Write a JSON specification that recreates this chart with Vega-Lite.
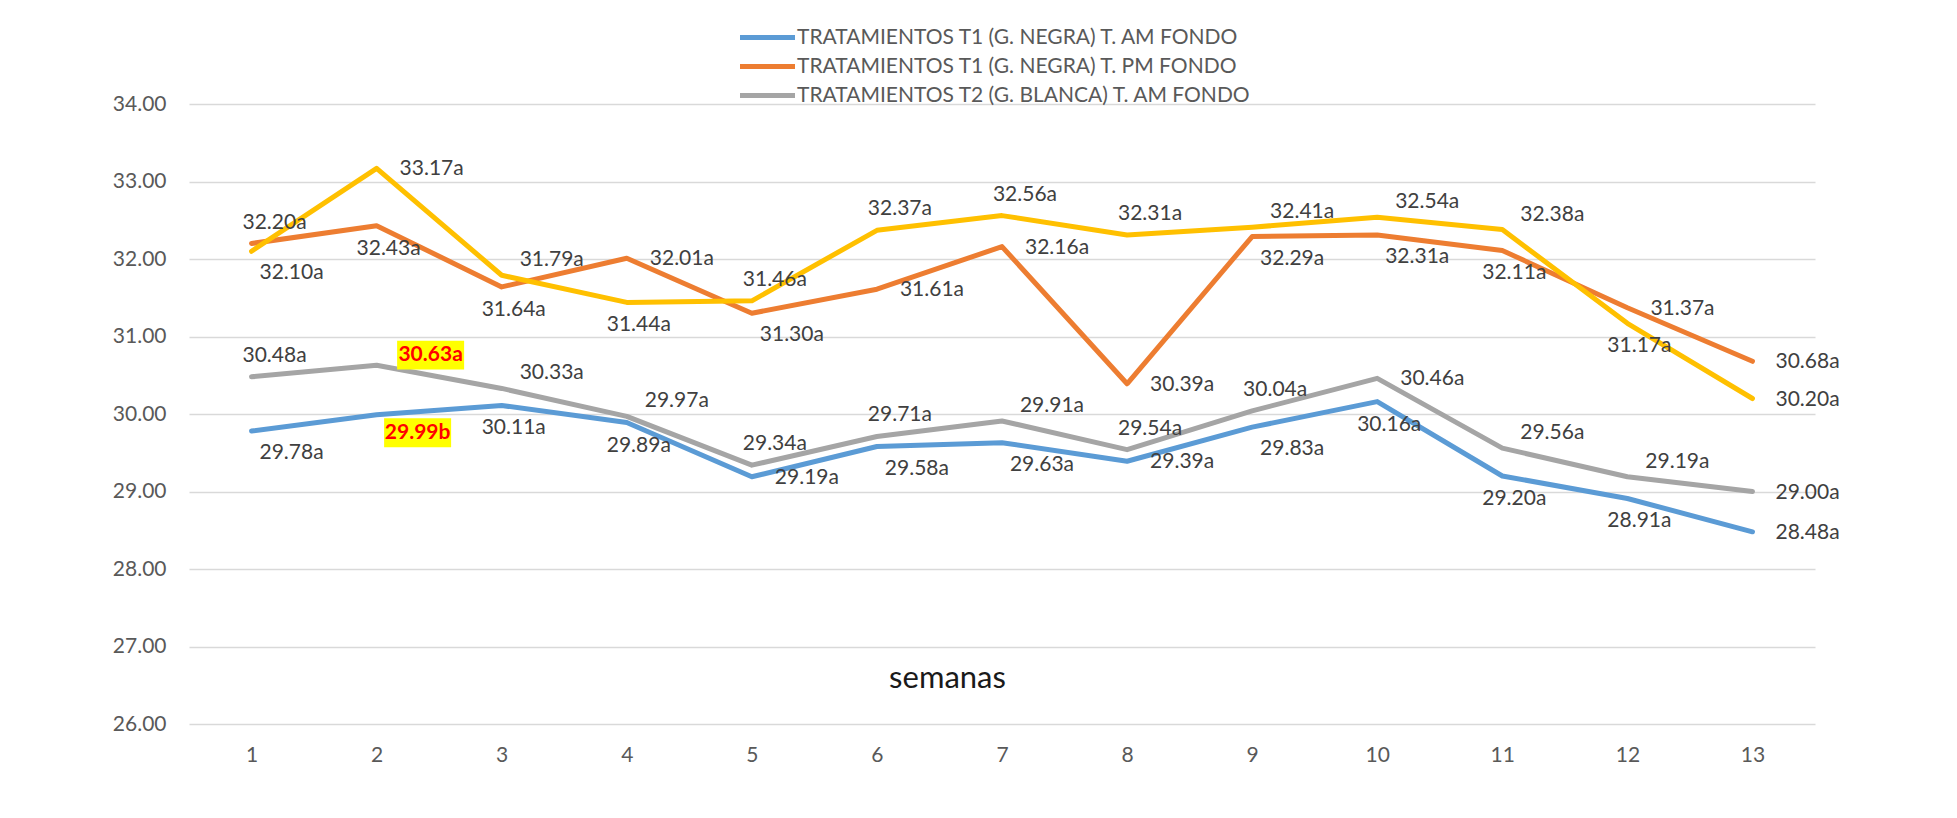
{
  "$schema": "https://vega.github.io/schema/vega-lite/v6.json",
  "width": 1626,
  "height": 620,
  "autosize": {"type": "none"},
  "padding": {"left": 189, "top": 104, "right": 142, "bottom": 94},
  "background": "white",
  "config": {
    "view": {"stroke": null},
    "font": "Lato",
    "text": {"font": "Lato", "fontSize": 21, "color": "#404040", "baseline": "middle"}
  },
  "data": {
    "values": [
      {"semana": 1, "codigo": "T1AM", "serie": "TRATAMIENTOS T1 (G. NEGRA) T. AM FONDO", "valor": 29.78, "etiqueta": "29.78a"},
      {"semana": 2, "codigo": "T1AM", "serie": "TRATAMIENTOS T1 (G. NEGRA) T. AM FONDO", "valor": 29.99, "etiqueta": "29.99b"},
      {"semana": 3, "codigo": "T1AM", "serie": "TRATAMIENTOS T1 (G. NEGRA) T. AM FONDO", "valor": 30.11, "etiqueta": "30.11a"},
      {"semana": 4, "codigo": "T1AM", "serie": "TRATAMIENTOS T1 (G. NEGRA) T. AM FONDO", "valor": 29.89, "etiqueta": "29.89a"},
      {"semana": 5, "codigo": "T1AM", "serie": "TRATAMIENTOS T1 (G. NEGRA) T. AM FONDO", "valor": 29.19, "etiqueta": "29.19a"},
      {"semana": 6, "codigo": "T1AM", "serie": "TRATAMIENTOS T1 (G. NEGRA) T. AM FONDO", "valor": 29.58, "etiqueta": "29.58a"},
      {"semana": 7, "codigo": "T1AM", "serie": "TRATAMIENTOS T1 (G. NEGRA) T. AM FONDO", "valor": 29.63, "etiqueta": "29.63a"},
      {"semana": 8, "codigo": "T1AM", "serie": "TRATAMIENTOS T1 (G. NEGRA) T. AM FONDO", "valor": 29.39, "etiqueta": "29.39a"},
      {"semana": 9, "codigo": "T1AM", "serie": "TRATAMIENTOS T1 (G. NEGRA) T. AM FONDO", "valor": 29.83, "etiqueta": "29.83a"},
      {"semana": 10, "codigo": "T1AM", "serie": "TRATAMIENTOS T1 (G. NEGRA) T. AM FONDO", "valor": 30.16, "etiqueta": "30.16a"},
      {"semana": 11, "codigo": "T1AM", "serie": "TRATAMIENTOS T1 (G. NEGRA) T. AM FONDO", "valor": 29.20, "etiqueta": "29.20a"},
      {"semana": 12, "codigo": "T1AM", "serie": "TRATAMIENTOS T1 (G. NEGRA) T. AM FONDO", "valor": 28.91, "etiqueta": "28.91a"},
      {"semana": 13, "codigo": "T1AM", "serie": "TRATAMIENTOS T1 (G. NEGRA) T. AM FONDO", "valor": 28.48, "etiqueta": "28.48a"},
      {"semana": 1, "codigo": "T1PM", "serie": "TRATAMIENTOS T1 (G. NEGRA) T. PM FONDO", "valor": 32.20, "etiqueta": "32.20a"},
      {"semana": 2, "codigo": "T1PM", "serie": "TRATAMIENTOS T1 (G. NEGRA) T. PM FONDO", "valor": 32.43, "etiqueta": "32.43a"},
      {"semana": 3, "codigo": "T1PM", "serie": "TRATAMIENTOS T1 (G. NEGRA) T. PM FONDO", "valor": 31.64, "etiqueta": "31.64a"},
      {"semana": 4, "codigo": "T1PM", "serie": "TRATAMIENTOS T1 (G. NEGRA) T. PM FONDO", "valor": 32.01, "etiqueta": "32.01a"},
      {"semana": 5, "codigo": "T1PM", "serie": "TRATAMIENTOS T1 (G. NEGRA) T. PM FONDO", "valor": 31.30, "etiqueta": "31.30a"},
      {"semana": 6, "codigo": "T1PM", "serie": "TRATAMIENTOS T1 (G. NEGRA) T. PM FONDO", "valor": 31.61, "etiqueta": "31.61a"},
      {"semana": 7, "codigo": "T1PM", "serie": "TRATAMIENTOS T1 (G. NEGRA) T. PM FONDO", "valor": 32.16, "etiqueta": "32.16a"},
      {"semana": 8, "codigo": "T1PM", "serie": "TRATAMIENTOS T1 (G. NEGRA) T. PM FONDO", "valor": 30.39, "etiqueta": "30.39a"},
      {"semana": 9, "codigo": "T1PM", "serie": "TRATAMIENTOS T1 (G. NEGRA) T. PM FONDO", "valor": 32.29, "etiqueta": "32.29a"},
      {"semana": 10, "codigo": "T1PM", "serie": "TRATAMIENTOS T1 (G. NEGRA) T. PM FONDO", "valor": 32.31, "etiqueta": "32.31a"},
      {"semana": 11, "codigo": "T1PM", "serie": "TRATAMIENTOS T1 (G. NEGRA) T. PM FONDO", "valor": 32.11, "etiqueta": "32.11a"},
      {"semana": 12, "codigo": "T1PM", "serie": "TRATAMIENTOS T1 (G. NEGRA) T. PM FONDO", "valor": 31.37, "etiqueta": "31.37a"},
      {"semana": 13, "codigo": "T1PM", "serie": "TRATAMIENTOS T1 (G. NEGRA) T. PM FONDO", "valor": 30.68, "etiqueta": "30.68a"},
      {"semana": 1, "codigo": "T2AM", "serie": "TRATAMIENTOS T2 (G. BLANCA) T. AM FONDO", "valor": 30.48, "etiqueta": "30.48a"},
      {"semana": 2, "codigo": "T2AM", "serie": "TRATAMIENTOS T2 (G. BLANCA) T. AM FONDO", "valor": 30.63, "etiqueta": "30.63a"},
      {"semana": 3, "codigo": "T2AM", "serie": "TRATAMIENTOS T2 (G. BLANCA) T. AM FONDO", "valor": 30.33, "etiqueta": "30.33a"},
      {"semana": 4, "codigo": "T2AM", "serie": "TRATAMIENTOS T2 (G. BLANCA) T. AM FONDO", "valor": 29.97, "etiqueta": "29.97a"},
      {"semana": 5, "codigo": "T2AM", "serie": "TRATAMIENTOS T2 (G. BLANCA) T. AM FONDO", "valor": 29.34, "etiqueta": "29.34a"},
      {"semana": 6, "codigo": "T2AM", "serie": "TRATAMIENTOS T2 (G. BLANCA) T. AM FONDO", "valor": 29.71, "etiqueta": "29.71a"},
      {"semana": 7, "codigo": "T2AM", "serie": "TRATAMIENTOS T2 (G. BLANCA) T. AM FONDO", "valor": 29.91, "etiqueta": "29.91a"},
      {"semana": 8, "codigo": "T2AM", "serie": "TRATAMIENTOS T2 (G. BLANCA) T. AM FONDO", "valor": 29.54, "etiqueta": "29.54a"},
      {"semana": 9, "codigo": "T2AM", "serie": "TRATAMIENTOS T2 (G. BLANCA) T. AM FONDO", "valor": 30.04, "etiqueta": "30.04a"},
      {"semana": 10, "codigo": "T2AM", "serie": "TRATAMIENTOS T2 (G. BLANCA) T. AM FONDO", "valor": 30.46, "etiqueta": "30.46a"},
      {"semana": 11, "codigo": "T2AM", "serie": "TRATAMIENTOS T2 (G. BLANCA) T. AM FONDO", "valor": 29.56, "etiqueta": "29.56a"},
      {"semana": 12, "codigo": "T2AM", "serie": "TRATAMIENTOS T2 (G. BLANCA) T. AM FONDO", "valor": 29.19, "etiqueta": "29.19a"},
      {"semana": 13, "codigo": "T2AM", "serie": "TRATAMIENTOS T2 (G. BLANCA) T. AM FONDO", "valor": 29.00, "etiqueta": "29.00a"},
      {"semana": 1, "codigo": "T2PM", "serie": "TRATAMIENTOS T2 (G. BLANCA) T. PM FONDO", "valor": 32.10, "etiqueta": "32.10a"},
      {"semana": 2, "codigo": "T2PM", "serie": "TRATAMIENTOS T2 (G. BLANCA) T. PM FONDO", "valor": 33.17, "etiqueta": "33.17a"},
      {"semana": 3, "codigo": "T2PM", "serie": "TRATAMIENTOS T2 (G. BLANCA) T. PM FONDO", "valor": 31.79, "etiqueta": "31.79a"},
      {"semana": 4, "codigo": "T2PM", "serie": "TRATAMIENTOS T2 (G. BLANCA) T. PM FONDO", "valor": 31.44, "etiqueta": "31.44a"},
      {"semana": 5, "codigo": "T2PM", "serie": "TRATAMIENTOS T2 (G. BLANCA) T. PM FONDO", "valor": 31.46, "etiqueta": "31.46a"},
      {"semana": 6, "codigo": "T2PM", "serie": "TRATAMIENTOS T2 (G. BLANCA) T. PM FONDO", "valor": 32.37, "etiqueta": "32.37a"},
      {"semana": 7, "codigo": "T2PM", "serie": "TRATAMIENTOS T2 (G. BLANCA) T. PM FONDO", "valor": 32.56, "etiqueta": "32.56a"},
      {"semana": 8, "codigo": "T2PM", "serie": "TRATAMIENTOS T2 (G. BLANCA) T. PM FONDO", "valor": 32.31, "etiqueta": "32.31a"},
      {"semana": 9, "codigo": "T2PM", "serie": "TRATAMIENTOS T2 (G. BLANCA) T. PM FONDO", "valor": 32.41, "etiqueta": "32.41a"},
      {"semana": 10, "codigo": "T2PM", "serie": "TRATAMIENTOS T2 (G. BLANCA) T. PM FONDO", "valor": 32.54, "etiqueta": "32.54a"},
      {"semana": 11, "codigo": "T2PM", "serie": "TRATAMIENTOS T2 (G. BLANCA) T. PM FONDO", "valor": 32.38, "etiqueta": "32.38a"},
      {"semana": 12, "codigo": "T2PM", "serie": "TRATAMIENTOS T2 (G. BLANCA) T. PM FONDO", "valor": 31.17, "etiqueta": "31.17a"},
      {"semana": 13, "codigo": "T2PM", "serie": "TRATAMIENTOS T2 (G. BLANCA) T. PM FONDO", "valor": 30.20, "etiqueta": "30.20a"}
    ]
  },
  "encoding": {
    "x": {
      "field": "semana",
      "type": "ordinal",
      "scale": {"type": "point", "padding": 0.5},
      "axis": {
        "title": "semanas",
        "titleFont": "Lato",
        "titleFontSize": 31,
        "titleFontWeight": "normal",
        "titleColor": "#1a1a1a",
        "titleX": 758,
        "titleY": -46,
        "titleAlign": "center",
        "titleBaseline": "middle",
        "labelAngle": 0,
        "labelFont": "Lato",
        "labelFontSize": 21,
        "labelColor": "#595959",
        "labelBaseline": "middle",
        "labelPadding": 31,
        "ticks": false,
        "tickSize": 0,
        "domain": false,
        "grid": false
      }
    },
    "y": {
      "field": "valor",
      "type": "quantitative",
      "scale": {"domain": [26, 34], "nice": false, "zero": false},
      "axis": {
        "title": null,
        "values": [26, 27, 28, 29, 30, 31, 32, 33, 34],
        "format": ".2f",
        "labelFont": "Lato",
        "labelFontSize": 21,
        "labelColor": "#595959",
        "labelPadding": 23,
        "ticks": false,
        "tickSize": 0,
        "domain": false,
        "grid": true,
        "gridColor": "#D9D9D9",
        "gridWidth": 1.5
      }
    }
  },
  "layer": [
    {
      "transform": [{"filter": "datum.codigo !== 'T2PM'"}],
      "mark": {"type": "line", "strokeWidth": 5, "strokeJoin": "round", "strokeCap": "round"},
      "encoding": {
        "color": {
          "field": "serie",
          "type": "nominal",
          "scale": {
            "domain": ["TRATAMIENTOS T1 (G. NEGRA) T. AM FONDO", "TRATAMIENTOS T1 (G. NEGRA) T. PM FONDO", "TRATAMIENTOS T2 (G. BLANCA) T. AM FONDO"],
            "range": ["#5B9BD5", "#ED7D31", "#A5A5A5"]
          },
          "legend": {
            "orient": "none",
            "legendX": 565,
            "legendY": -80,
            "title": null,
            "padding": 0,
            "symbolType": "M-2.5,0L2.5,0",
            "symbolSize": 484,
            "symbolStrokeWidth": 5,
            "symbolFillColor": "transparent",
            "rowPadding": 5,
            "labelOffset": 16,
            "labelFont": "Lato",
            "labelFontSize": 21,
            "labelColor": "#595959",
            "labelLimit": 0
          }
        }
      }
    },
    {
      "transform": [{"filter": "datum.codigo === 'T2PM'"}],
      "mark": {"type": "line", "strokeWidth": 5, "strokeJoin": "round", "strokeCap": "round", "color": "#FFC000"}
    },
    {
      "transform": [{"filter": "(datum.codigo==='T1PM' && indexof([4,6,7,8,12,13],datum.semana)>=0) || (datum.codigo==='T2PM' && indexof([2,13],datum.semana)>=0) || (datum.codigo==='T2AM' && indexof([10,13],datum.semana)>=0) || (datum.codigo==='T1AM' && indexof([5,8,13],datum.semana)>=0)"}],
      "mark": {"type": "text", "align": "left", "dx": 23, "dy": 1},
      "encoding": {"text": {"field": "etiqueta"}}
    },
    {
      "transform": [{"filter": "(datum.codigo==='T1PM' && indexof([1],datum.semana)>=0) || (datum.codigo==='T2PM' && indexof([5,6,7,8],datum.semana)>=0) || (datum.codigo==='T2AM' && indexof([1,5,6,8,9],datum.semana)>=0)"}],
      "mark": {"type": "text", "align": "center", "dx": 23, "dy": -21},
      "encoding": {"text": {"field": "etiqueta"}}
    },
    {
      "transform": [{"filter": "(datum.codigo==='T2PM' && indexof([3,9,10,11],datum.semana)>=0) || (datum.codigo==='T2AM' && indexof([3,4,7,11,12],datum.semana)>=0)"}],
      "mark": {"type": "text", "align": "center", "dx": 50, "dy": -15},
      "encoding": {"text": {"field": "etiqueta"}}
    },
    {
      "transform": [{"filter": "(datum.codigo==='T1PM' && indexof([2,3,11],datum.semana)>=0) || (datum.codigo==='T2PM' && indexof([4,12],datum.semana)>=0) || (datum.codigo==='T1AM' && indexof([3,4,10,11,12],datum.semana)>=0)"}],
      "mark": {"type": "text", "align": "center", "dx": 12, "dy": 23},
      "encoding": {"text": {"field": "etiqueta"}}
    },
    {
      "transform": [{"filter": "(datum.codigo==='T1PM' && indexof([5,9,10],datum.semana)>=0) || (datum.codigo==='T2PM' && indexof([1],datum.semana)>=0) || (datum.codigo==='T1AM' && indexof([1,6,7,9],datum.semana)>=0)"}],
      "mark": {"type": "text", "align": "center", "dx": 40, "dy": 22},
      "encoding": {"text": {"field": "etiqueta"}}
    },
    {
      "transform": [{"filter": "datum.codigo==='T2AM' && datum.semana===2"}],
      "layer": [
        {"mark": {"type": "point", "shape": "M-1,-0.43H1V0.43H-1Z", "filled": true, "color": "#FFFF00", "opacity": 1, "size": 4489, "xOffset": 54, "yOffset": -10}},
        {"mark": {"type": "text", "align": "center", "dx": 54, "dy": -10, "fontWeight": "bold", "color": "#FF0000"}, "encoding": {"text": {"field": "etiqueta"}}}
      ]
    },
    {
      "transform": [{"filter": "datum.codigo==='T1AM' && datum.semana===2"}],
      "layer": [
        {"mark": {"type": "point", "shape": "M-1,-0.43H1V0.43H-1Z", "filled": true, "color": "#FFFF00", "opacity": 1, "size": 4489, "xOffset": 41, "yOffset": 18}},
        {"mark": {"type": "text", "align": "center", "dx": 41, "dy": 18, "fontWeight": "bold", "color": "#FF0000"}, "encoding": {"text": {"field": "etiqueta"}}}
      ]
    }
  ]
}
